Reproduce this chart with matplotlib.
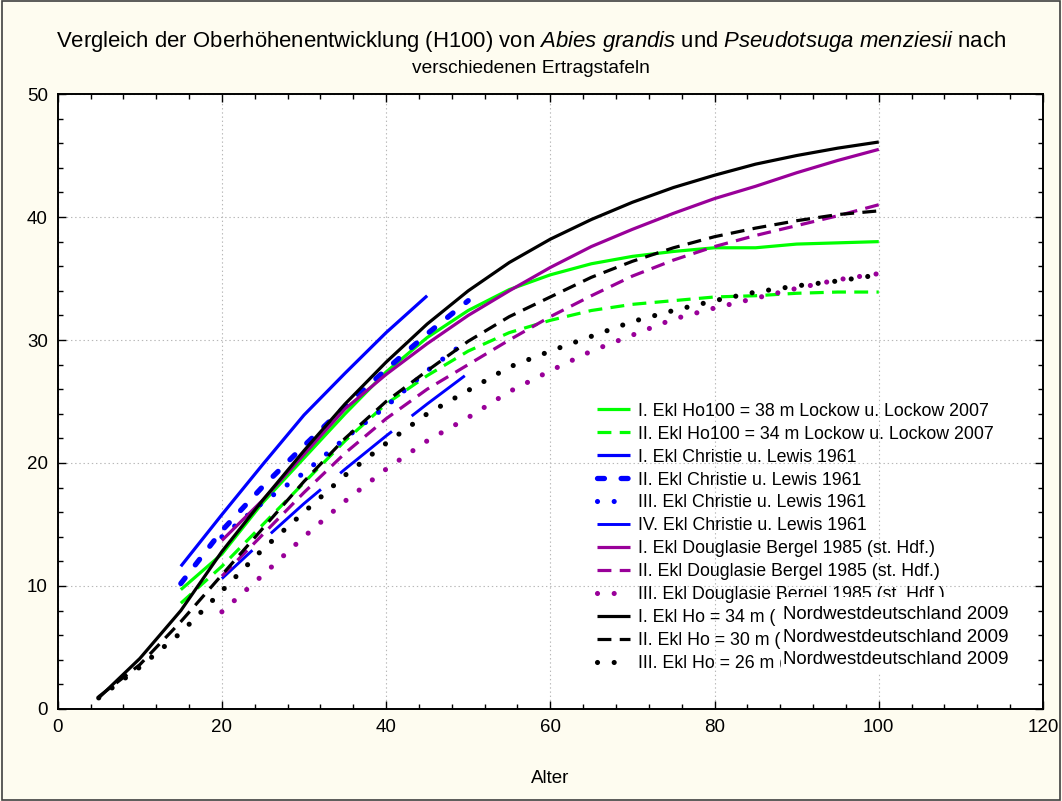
import matplotlib
matplotlib.use("Agg")
import matplotlib.pyplot as plt
from matplotlib.patches import Rectangle
from matplotlib.ticker import MultipleLocator

plt.rcParams["font.family"] = ["Liberation Sans", "DejaVu Sans"]
plt.rcParams["mathtext.fontset"] = "custom"
plt.rcParams["mathtext.rm"] = "Liberation Sans"
plt.rcParams["mathtext.it"] = "Liberation Sans:italic"
plt.rcParams["lines.scale_dashes"] = False

# Alter (Jahre)
alter_nw = [5, 10, 15, 20, 25, 30, 35, 40, 45, 50, 55, 60, 65, 70, 75, 80, 85, 90, 95, 100]
alter_lockow = [15, 20, 25, 30, 35, 40, 45, 50, 55, 60, 65, 70, 75, 80, 85, 90, 95, 100]
alter_bergel = [20, 25, 30, 35, 40, 45, 50, 55, 60, 65, 70, 75, 80, 85, 90, 95, 100]
alter_cl1 = [15, 20, 25, 30, 35, 40, 45]
alter_cl2 = [15, 20, 25, 30, 35, 40, 45, 50]
alter_cl3 = [20, 25, 30, 35, 40, 45, 50]
alter_cl4 = [20, 25, 30, 35, 40, 45, 50]

# Oberhoehe H100 (m)
lockow_1 = [9.7, 12.6, 16.8, 20.4, 24.0, 27.4, 30.2, 32.4, 34.1, 35.3, 36.2, 36.8, 37.2, 37.5, 37.5, 37.8, 37.9, 38.0]
lockow_2 = [8.6, 11.6, 15.0, 18.4, 21.8, 24.8, 27.1, 29.1, 30.6, 31.6, 32.4, 32.9, 33.2, 33.5, 33.6, 33.8, 33.9, 33.9]
christie_1 = [11.6, 15.8, 19.9, 23.9, 27.3, 30.6, 33.6]
christie_2 = [10.2, 14.5, 18.1, 21.4, 24.6, 27.6, 30.5, 33.2]
christie_3 = [14.0, 16.8, 19.2, 22.0, 24.6, 27.5, 30.0]
christie_4 = [10.6, 13.7, 16.7, 19.5, 22.2, 24.8, 27.3]
bergel_1 = [13.7, 17.0, 20.7, 24.4, 27.2, 29.7, 32.0, 34.0, 35.9, 37.6, 39.0, 40.3, 41.5, 42.5, 43.6, 44.6, 45.5]
bergel_2 = [10.8, 14.2, 17.6, 20.8, 23.6, 26.0, 28.0, 30.0, 31.9, 33.6, 35.2, 36.5, 37.6, 38.5, 39.3, 40.1, 41.0]
bergel_3 = [7.9, 10.9, 14.0, 16.9, 19.5, 21.8, 23.7, 25.8, 27.5, 29.1, 30.4, 31.7, 32.6, 33.4, 34.2, 34.9, 35.4]
nw_1 = [0.9, 4.1, 8.0, 12.8, 17.0, 21.0, 24.8, 28.2, 31.3, 34.0, 36.3, 38.2, 39.8, 41.2, 42.4, 43.4, 44.3, 45.0, 45.6, 46.1]
nw_2 = [1.0, 3.6, 7.1, 10.9, 14.7, 18.5, 22.0, 25.0, 27.5, 29.9, 31.9, 33.5, 35.1, 36.4, 37.5, 38.4, 39.1, 39.7, 40.2, 40.5]
nw_3 = [0.9, 3.4, 6.2, 9.6, 13.0, 16.0, 19.0, 21.6, 24.0, 25.9, 27.8, 29.1, 30.3, 31.5, 32.4, 33.2, 33.9, 34.4, 34.8, 35.3]

GREEN = "#00ff00"
BLUE = "#0000ff"
PURPLE = "#990099"
BLACK = "#000000"

solid = dict(lw=2.3, solid_capstyle="butt")
dashed = dict(lw=2.3, linestyle=(0, (10.0, 6.0)), dash_capstyle="butt")
dotted = dict(lw=3.7, linestyle=(0, (0.01, 12.0)), dash_capstyle="round")

fig = plt.figure(figsize=(10.62, 8.01), dpi=100, facecolor="#fefcf0")
ax = fig.add_axes([0.0543, 0.1149, 0.9278, 0.7677])
ax.set_facecolor("white")

ax.plot(alter_lockow, lockow_1, color=GREEN, label="I. Ekl Ho100 = 38 m Lockow u. Lockow 2007", **solid)
ax.plot(alter_lockow, lockow_2, color=GREEN, label="II. Ekl Ho100 = 34 m Lockow u. Lockow 2007", **dashed)
ax.plot(alter_cl1, christie_1, color=BLUE, label="I. Ekl Christie u. Lewis 1961", **solid)
ax.plot(alter_cl2, christie_2, color=BLUE, lw=3.8, linestyle=(0, (5.0, 12.0)),
        dash_capstyle="round", label="II. Ekl Christie u. Lewis 1961")
ax.plot(alter_cl3, christie_3, color=BLUE, label="III. Ekl Christie u. Lewis 1961", **dotted)
ax.plot(alter_cl4, christie_4, color=BLUE, lw=2.1, linestyle=(18, (48, 18)),
        dash_capstyle="butt", label="IV. Ekl Christie u. Lewis 1961")
ax.plot(alter_bergel, bergel_1, color=PURPLE, label="I. Ekl Douglasie Bergel 1985 (st. Hdf.)", **solid)
ax.plot(alter_bergel, bergel_2, color=PURPLE, label="II. Ekl Douglasie Bergel 1985 (st. Hdf.)", **dashed)
ax.plot(alter_bergel, bergel_3, color=PURPLE, label="III. Ekl Douglasie Bergel 1985 (st. Hdf.)", **dotted)
ax.plot(alter_nw, nw_1, color=BLACK, label="I. Ekl Ho = 34 m (", **solid)
ax.plot(alter_nw, nw_2, color=BLACK, label="II. Ekl Ho = 30 m (", **dashed)
ax.plot(alter_nw, nw_3, color=BLACK, label="III. Ekl Ho = 26 m (", **dotted)

ax.set_xlim(0, 120)
ax.set_ylim(0, 50)
ax.xaxis.set_major_locator(MultipleLocator(20))
ax.xaxis.set_minor_locator(MultipleLocator(4))
ax.yaxis.set_major_locator(MultipleLocator(10))
ax.yaxis.set_minor_locator(MultipleLocator(2))
ax.tick_params(which="both", direction="in", top=True, right=True, labelsize=13.5, width=1.0)
ax.tick_params(which="major", length=6, pad=7)
ax.tick_params(which="minor", length=3.5)
ax.grid(True, which="major", linestyle=(0, (1, 2)), color="#b8b8b8", lw=0.8)
for s in ax.spines.values():
    s.set_linewidth(1.4)

ax.set_xlabel("Alter", fontsize=13.5, labelpad=25)
fig.text(0.5, 0.9488,
         r"Vergleich der Oberhöhenentwicklung (H100) von $\mathit{Abies\ grandis}$ und "
         r"$\mathit{Pseudotsuga\ menziesii}$ nach",
         ha="center", va="center", fontsize=15.9)
fig.text(0.5, 0.915, "verschiedenen Ertragstafeln", ha="center", va="center", fontsize=13.8)

leg = ax.legend(loc="center left", bbox_to_anchor=(0.5473, 0.279), frameon=False,
                fontsize=12.8, borderpad=0, borderaxespad=0, handlelength=1.86,
                handletextpad=0.45, labelspacing=0.335)

# ueberdeckende Textbox "Nordwestdeutschland 2009"
W, H = 1062, 801
fig.patches.append(Rectangle((781 / W, 1 - 672 / H), 232 / W, 75 / H, transform=fig.transFigure,
                             facecolor="white", edgecolor="none", zorder=6))
for yc in [614.3, 637.3, 660.0]:
    fig.text(783 / W, 1 - yc / H, "Nordwestdeutschland 2009", ha="left", va="center",
             fontsize=13.4, zorder=7)

fig.patches.append(Rectangle((0.0015, 0.0015), 0.997, 0.997, transform=fig.transFigure,
                             facecolor="none", edgecolor="#404040", lw=1.2, zorder=10))

fig.savefig("out.png", dpi=100, facecolor=fig.get_facecolor())
